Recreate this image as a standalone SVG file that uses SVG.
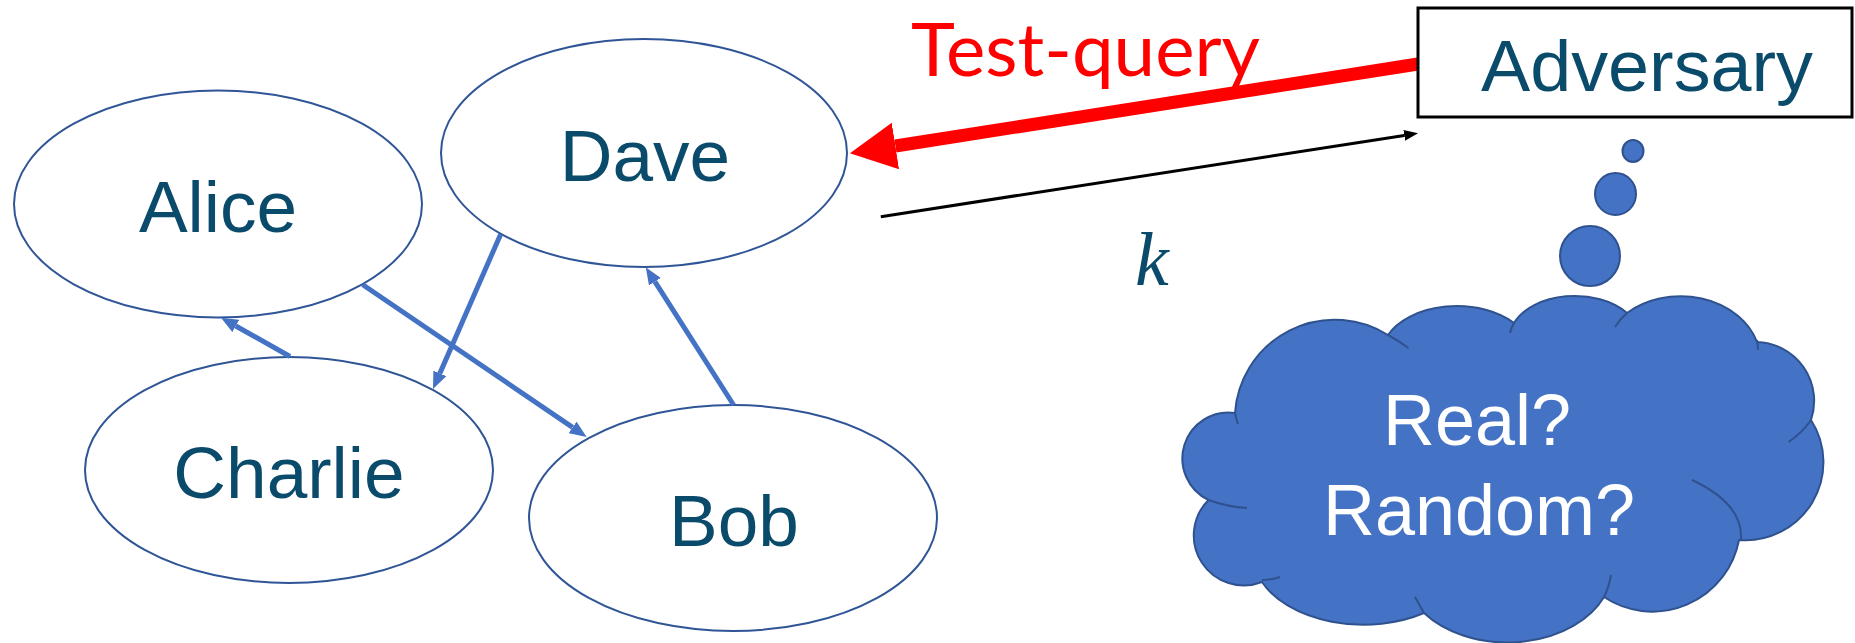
<svg xmlns="http://www.w3.org/2000/svg" width="1855" height="643" viewBox="0 0 1855 643">
  <style>
    .node ellipse { fill: #ffffff; stroke: #2F5597; stroke-width: 2; }
    .label { font-family: "Liberation Sans", Arial, sans-serif; font-size: 73px; fill: #0A4B6C; text-anchor: middle; }
    .edge { stroke: #4472C4; stroke-width: 5; fill: none; marker-end: url(#blueHead); }
    .bubble { fill: #4472C4; stroke: #2F528F; stroke-width: 2; }
    .cloudText { font-family: "Liberation Sans", Arial, sans-serif; font-size: 72px; fill: #ffffff; text-anchor: middle; }
  </style>
  <defs>
    <marker id="blueHead" markerUnits="userSpaceOnUse" viewBox="0 0 17 14" markerWidth="17" markerHeight="14" refX="0" refY="7" orient="auto">
      <path d="M0,0 L17,7 L0,14 z" fill="#4472C4"/>
    </marker>
    <marker id="redHead" markerUnits="userSpaceOnUse" viewBox="0 0 46 47" markerWidth="46" markerHeight="47" refX="0" refY="23.5" orient="auto">
      <path d="M0,0 L46,23.5 L0,47 z" fill="#FF0000"/>
    </marker>
    <marker id="blackHead" markerUnits="userSpaceOnUse" viewBox="0 0 14 11" markerWidth="14" markerHeight="11" refX="0" refY="5.5" orient="auto">
      <path d="M0,0 L14,5.5 L0,11 z" fill="#000000"/>
    </marker>
  </defs>

  <rect width="1855" height="643" fill="#ffffff"/>

  <!-- nodes -->
  <g id="alice" class="node">
    <ellipse cx="218" cy="204" rx="204" ry="113.5"/>
    <text class="label" x="218" y="232">Alice</text>
  </g>
  <g id="dave" class="node">
    <ellipse cx="644" cy="153" rx="203" ry="114"/>
    <text class="label" x="645" y="181">Dave</text>
  </g>
  <g id="charlie" class="node">
    <ellipse cx="289" cy="470" rx="204" ry="113"/>
    <text class="label" x="289" y="498">Charlie</text>
  </g>
  <g id="bob" class="node">
    <ellipse cx="733" cy="518" rx="204" ry="113"/>
    <text class="label" x="734" y="546">Bob</text>
  </g>

  <!-- graph connectors -->
  <g id="connectors">
    <path class="edge" d="M290,356.5 L235.8,326"/>
    <path class="edge" d="M500.6,234.4 L439.8,373.4"/>
    <path class="edge" d="M362.8,284.7 L572.6,427.4"/>
    <path class="edge" d="M733.6,405 L654.9,281.7"/>
    <!-- test query from the adversary to Dave -->
    <path d="M1418,64 L895.4,146" stroke="#FF0000" stroke-width="13" fill="none" marker-end="url(#redHead)"/>
    <!-- key returned to the adversary -->
    <path d="M880.8,216.7 L1404.2,135.4" stroke="#000000" stroke-width="3" fill="none" marker-end="url(#blackHead)"/>
  </g>

  <text id="testQueryLabel" x="911" y="76" font-family="Lato, 'Open Sans', sans-serif" font-size="74" fill="#FF0000" textLength="349" lengthAdjust="spacingAndGlyphs">Test-query</text>
  <text id="keyLabel" x="1135" y="285" font-family="'Liberation Serif', 'Times New Roman', serif" font-style="italic" font-size="76" fill="#0A4B6C">k</text>

  <g id="adversary">
    <rect x="1418" y="8" width="434" height="109" fill="#ffffff" stroke="#000000" stroke-width="3"/>
    <text class="label" x="1647" y="91" font-size="76" textLength="332" lengthAdjust="spacingAndGlyphs">Adversary</text>
  </g>

  <!-- thought bubbles -->
  <g id="thought">
    <ellipse class="bubble" cx="1633" cy="151" rx="10.5" ry="11"/>
    <ellipse class="bubble" cx="1615.5" cy="194" rx="20.5" ry="21"/>
    <ellipse class="bubble" cx="1590" cy="256" rx="30" ry="30"/>
  </g>

  <g id="cloud">
    <path class="bubble" d="M1235,413 A46,46 0 0,0 1208.5,500 A50,50 0 0,0 1262,582 A110,70 0 0,0 1424,613 A105,75 0 0,0 1604,597 A88,88 0 0,0 1739,540 A78,78 0 0,0 1811,420 A59,59 0 0,0 1757,342 A80,65 0 0,0 1627,313 A65,42 0 0,0 1514,323 A75,48 0 0,0 1388,335 A100,100 0 0,0 1235,413 Z"/>
    <path fill="none" stroke="#2F528F" stroke-width="2" d="M1235,413 Q1236,418 1238,424 M1208.5,500 Q1228,507 1247,508 M1262,580 Q1271,580 1280,577 M1415,597 Q1419,604 1424,613 M1611,575 Q1609,587 1604,597 M1692,480 Q1743.5,504 1741,540 M1811,420 Q1802,433 1788.5,442 M1757,340 Q1758,345 1758,350 M1627,313 Q1620,319 1615,327 M1514,323 Q1511,328 1510,333 M1388,335 Q1399,341 1408.5,348"/>
    <text class="cloudText" x="1477" y="445">Real?</text>
    <text class="cloudText" x="1479" y="535">Random?</text>
  </g>
</svg>
